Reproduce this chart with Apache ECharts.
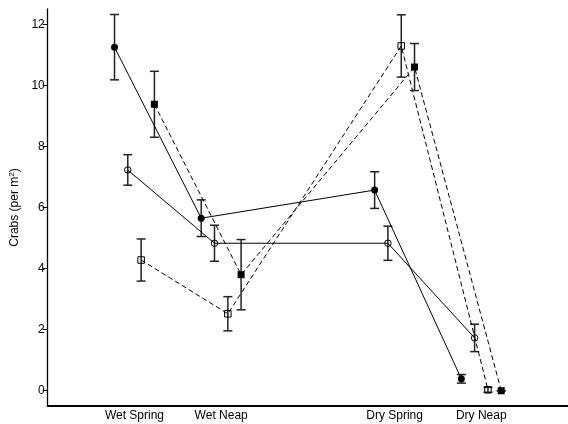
<!DOCTYPE html>
<html><head><meta charset="utf-8">
<script src="https://cdn.jsdelivr.net/npm/echarts@6/dist/echarts.min.js"></script>
<style>html,body{margin:0;padding:0;background:#fff}#c{width:568px;height:424px}</style>
</head><body><div id="c"></div>
<script>
const categories = ['Wet Spring', 'Wet Neap', 'Dry Spring', 'Dry Neap'];
const positions = [1, 2, 4, 5];
const yTicks = [0, 2, 4, 6, 8, 10, 12];
const filledCircle = [11.25, 5.65, 6.57, 0.39];
const filledCircleErr = [1.07, 0.6, 0.6, 0.14];
const openCircle = [7.23, 4.83, 4.83, 1.73];
const openCircleErr = [0.5, 0.59, 0.56, 0.45];
const openSquare = [4.28, 2.52, 11.29, 0.03];
const openSquareErr = [0.69, 0.56, 1.02, 0.08];
const filledSquare = [9.38, 3.8, 10.6, 0.0];
const filledSquareErr = [1.08, 1.15, 0.77, 0.0];
const offsets = [-0.23, -0.077, 0.077, 0.23];

const groups = [
  { vals: filledCircle, errs: filledCircleErr, symbol: 'circle', filled: true, dashed: false },
  { vals: openCircle, errs: openCircleErr, symbol: 'circle', filled: false, dashed: false },
  { vals: openSquare, errs: openSquareErr, symbol: 'rect', filled: false, dashed: true },
  { vals: filledSquare, errs: filledSquareErr, symbol: 'rect', filled: true, dashed: true }
];

const series = [];
groups.forEach((g, gi) => {
  const pts = g.vals.map((v, i) => [positions[i] + offsets[gi], v]);
  const ebs = g.vals.map((v, i) => [positions[i] + offsets[gi], v - g.errs[i], v + g.errs[i]]);
  series.push({
    type: 'custom',
    z: 2,
    clip: false,
    silent: true,
    data: ebs,
    renderItem: function (params, api) {
      const x = api.value(0);
      const lo = api.coord([x, api.value(1)]);
      const hi = api.coord([x, api.value(2)]);
      const hw = 4.5;
      const st = { stroke: '#222', lineWidth: 1.5, fill: null };
      return {
        type: 'group', children: [
          { type: 'line', shape: { x1: lo[0], y1: lo[1], x2: hi[0], y2: hi[1] }, style: st },
          { type: 'line', shape: { x1: lo[0] - hw, y1: lo[1], x2: lo[0] + hw, y2: lo[1] }, style: st },
          { type: 'line', shape: { x1: hi[0] - hw, y1: hi[1], x2: hi[0] + hw, y2: hi[1] }, style: st }
        ]
      };
    }
  });
  series.push({
    type: 'line',
    z: 3,
    data: pts,
    symbol: g.symbol,
    symbolSize: g.filled ? 7 : 6.5,
    showAllSymbol: true,
    itemStyle: { color: g.filled ? '#000' : 'rgba(255,255,255,0)', borderColor: '#000', borderWidth: g.filled ? 0 : 1 },
    lineStyle: { color: '#000', width: 1, type: g.dashed ? [5, 3] : 'solid' },
    emphasis: { disabled: true }
  });
});

const chart = echarts.init(document.getElementById('c'), null, { renderer: 'canvas' });
chart.setOption({
  animation: false,
  backgroundColor: '#fff',
  grid: { left: 45, right: 0, top: 9, bottom: 18, containLabel: false },
  xAxis: {
    type: 'value', min: 0, max: 6,
    axisLine: { show: true, onZero: false, lineStyle: { color: '#000', width: 2 } },
    axisTick: { show: false },
    splitLine: { show: false },
    axisLabel: {
      customValues: positions,
      formatter: function (v) { const i = positions.indexOf(v); return i >= 0 ? categories[i] : ''; },
      color: '#000', fontSize: 12, fontFamily: 'Liberation Sans', margin: 4
    }
  },
  yAxis: {
    type: 'value', min: -0.5, max: 12.5,
    name: 'Crabs (per m{sup|2})',
    nameLocation: 'middle', nameGap: 22,
    nameTextStyle: { color: '#000', fontSize: 12, fontFamily: 'Liberation Sans',
      rich: { sup: { fontSize: 8, verticalAlign: 'top', color: '#000', fontFamily: 'Liberation Sans', padding: [0, 0, 5, 0] } } },
    axisLine: { show: true, onZero: false, lineStyle: { color: '#000', width: 1.3 } },
    axisTick: { show: true, length: 5, customValues: yTicks, lineStyle: { color: '#000', width: 1 } },
    splitLine: { show: false },
    axisLabel: { customValues: yTicks, color: '#000', fontSize: 12, fontFamily: 'Liberation Sans', margin: 3 }
  },
  series: series
});
</script>
</body></html>
